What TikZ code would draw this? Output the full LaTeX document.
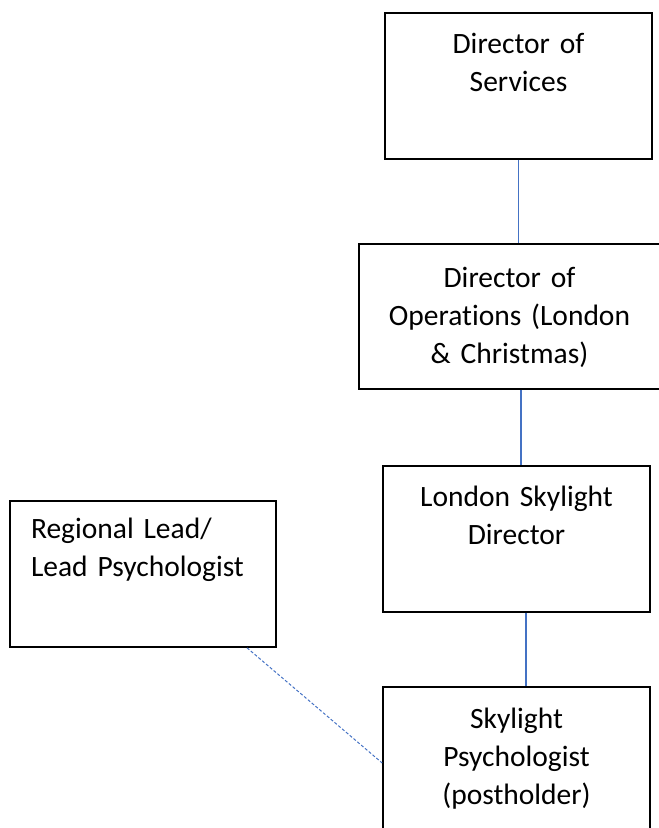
\documentclass[tikz,border=0pt]{standalone}
\usepackage{fontspec}
\setmainfont{Carlito}[Ligatures=NoCommon]
\definecolor{linkblue}{HTML}{4472C4}
\begin{document}
\begin{tikzpicture}[x=1pt, y=-1pt,
		post/.style={draw, line width=1.6pt, inner sep=0pt, align=center, font=\fontsize{29.5}{38}\selectfont},
		link/.style={draw=linkblue, line width=1.1pt},
		dashlink/.style={draw=linkblue, line width=1pt, dash pattern=on 3pt off 2pt}]
		\useasboundingbox (0,0) rectangle (659,828);
		\clip (0,0) rectangle (659,828);
		%posts
		\node[post, text width=267pt, text height=40pt, text depth=106pt] (dos) at (518.5, 86){Director of\\Services};
		\node[post, text width=301pt, text height=43pt, text depth=102pt] (dops) at (509.5, 316.5){Director of\\Operations (London\\\& Christmas)};
		\node[post, text width=267pt, text height=40pt, text depth=106pt] (lsd) at (516.5, 539){London Skylight\\Director};
		\node[post, align=left, inner xsep=21pt, text width=224pt, text height=37pt, text depth=109pt] (reg) at (143, 574){Regional Lead/\\Lead Psychologist};
		\node[post, text width=267pt, text height=41pt, text depth=105pt] (psy) at (516.5, 760){Skylight\\Psychologist\\(postholder)};
		
		%reporting lines
		\draw[link] (dos.south) -- (dos.south |- dops.north);
		\draw[link] ([xshift=11.5pt]dops.south) -- ([xshift=11.5pt]dops.south |- lsd.north);
		\draw[link] ([xshift=9.5pt]lsd.south) -- ([xshift=9.5pt]lsd.south |- psy.north);
		\draw[dashlink] ([xshift=104pt]reg.south) -- ([yshift=-3pt]psy.west);
\end{tikzpicture}
\end{document}
